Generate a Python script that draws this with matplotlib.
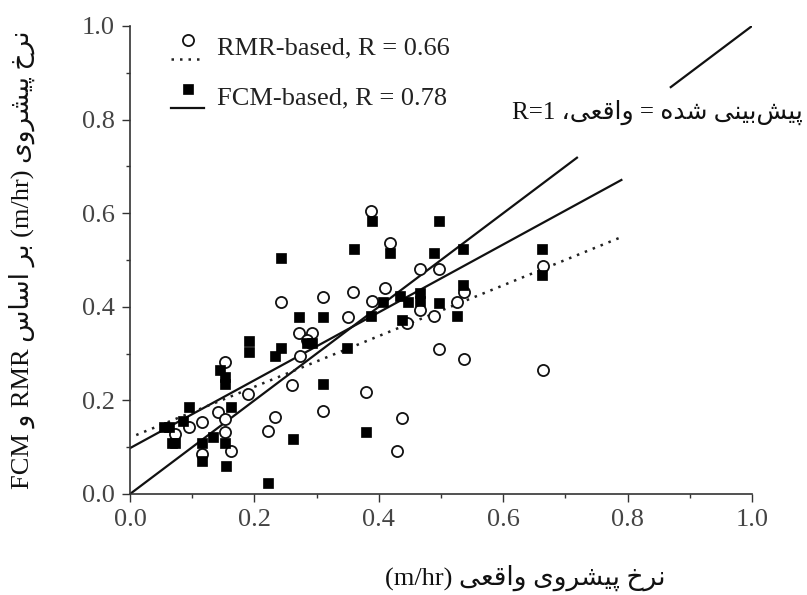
import matplotlib
matplotlib.use('Agg')
import matplotlib.pyplot as plt
from matplotlib.ticker import MultipleLocator, FormatStrFormatter
from matplotlib.legend_handler import HandlerBase
from matplotlib.lines import Line2D

# ---------------- data ----------------
rmr_x = [0.072, 0.095, 0.115, 0.115, 0.142, 0.153, 0.153, 0.153, 0.163, 0.190,
         0.222, 0.233, 0.242, 0.260, 0.271, 0.273, 0.292, 0.284, 0.310, 0.310,
         0.351, 0.359, 0.379, 0.388, 0.389, 0.410, 0.418, 0.430, 0.438, 0.445,
         0.466, 0.466, 0.489, 0.496, 0.497, 0.525, 0.537, 0.537, 0.664, 0.664]
rmr_y = [0.128, 0.143, 0.153, 0.085, 0.175, 0.282, 0.161, 0.132, 0.092, 0.214,
         0.135, 0.164, 0.411, 0.232, 0.345, 0.295, 0.345, 0.330, 0.422, 0.178,
         0.378, 0.431, 0.218, 0.605, 0.413, 0.440, 0.537, 0.092, 0.162, 0.365,
         0.480, 0.394, 0.380, 0.480, 0.310, 0.411, 0.431, 0.288, 0.487, 0.266]

fcm_x = [0.054, 0.062, 0.067, 0.072, 0.086, 0.095, 0.115, 0.115, 0.133, 0.145,
         0.153, 0.153, 0.153, 0.154, 0.163, 0.192, 0.192, 0.222, 0.233, 0.242,
         0.242, 0.262, 0.272, 0.284, 0.292, 0.310, 0.310, 0.349, 0.360, 0.380,
         0.388, 0.389, 0.407, 0.418, 0.434, 0.437, 0.447, 0.466, 0.466, 0.488,
         0.497, 0.496, 0.525, 0.536, 0.536, 0.663, 0.663]
fcm_y = [0.143, 0.143, 0.110, 0.110, 0.156, 0.186, 0.110, 0.071, 0.121, 0.265,
         0.250, 0.236, 0.110, 0.060, 0.186, 0.326, 0.304, 0.024, 0.295, 0.313,
         0.504, 0.118, 0.379, 0.322, 0.322, 0.379, 0.236, 0.311, 0.524, 0.132,
         0.380, 0.584, 0.411, 0.514, 0.424, 0.372, 0.411, 0.429, 0.413, 0.514,
         0.584, 0.409, 0.380, 0.524, 0.447, 0.524, 0.469]

rmr_fit_x = [0.01, 0.79]
rmr_fit_y = [0.126, 0.549]
fcm_fit_x = [0.0, 0.79]
fcm_fit_y = [0.098, 0.671]
ideal_segments = [(0.0, 0.72), (0.868, 1.0)]   # y = x line, broken by its label

legend_labels = ['RMR-based, R = 0.66', 'FCM-based, R = 0.78']
x_label = 'نرخ پیشروی واقعی (m/hr)'
y_label = 'نرخ پیشروی (m/hr) بر اساس RMR و FCM'
ideal_label = 'پیش\u200cبینی شده = واقعی، R=1'

# ---------------- minimal Persian shaping (presentation forms) ----------------
FORMS = {
    '\u0627': ('\uFE8D', '\uFE8E', None, None),
    '\u0628': ('\uFE8F', '\uFE90', '\uFE91', '\uFE92'),
    '\u067E': ('\uFB56', '\uFB57', '\uFB58', '\uFB59'),
    '\u062E': ('\uFEA5', '\uFEA6', '\uFEA7', '\uFEA8'),
    '\u062F': ('\uFEA9', '\uFEAA', None, None),
    '\u0631': ('\uFEAD', '\uFEAE', None, None),
    '\u0633': ('\uFEB1', '\uFEB2', '\uFEB3', '\uFEB4'),
    '\u0634': ('\uFEB5', '\uFEB6', '\uFEB7', '\uFEB8'),
    '\u0639': ('\uFEC9', '\uFECA', '\uFECB', '\uFECC'),
    '\u0642': ('\uFED5', '\uFED6', '\uFED7', '\uFED8'),
    '\u0646': ('\uFEE5', '\uFEE6', '\uFEE7', '\uFEE8'),
    '\u0647': ('\uFEE9', '\uFEEA', '\uFEEB', '\uFEEC'),
    '\u0648': ('\uFEED', '\uFEEE', None, None),
    '\u06CC': ('\uFBFC', '\uFBFD', '\uFBFE', '\uFBFF'),
}


def _dual(c):
    return c in FORMS and FORMS[c][2] is not None


def shape_word(w):
    out = []
    for i, c in enumerate(w):
        if c not in FORMS:
            if c != '\u200c':
                out.append(c)
            continue
        prev = w[i - 1] if i > 0 else ''
        nxt = w[i + 1] if i + 1 < len(w) else ''
        jp = _dual(prev)
        jn = _dual(c) and nxt in FORMS
        iso, fin, ini, med = FORMS[c]
        if jp and jn:
            out.append(med)
        elif jp:
            out.append(fin)
        elif jn:
            out.append(ini)
        else:
            out.append(iso)
    return ''.join(out)


def _is_rtl(tok):
    return any('\u0600' <= ch <= '\u06FF' for ch in tok)


def visual(s):
    out = []
    for t in reversed(s.split(' ')):
        out.append(shape_word(t)[::-1] if _is_rtl(t) else t)
    return ' '.join(out)


class StackedHandler(HandlerBase):
    """marker above, line below (as in the reference legend)"""
    def create_artists(self, legend, orig_handle, xdescent, ydescent,
                       width, height, fontsize, trans):
        mk, ln = orig_handle
        yc = -ydescent + height / 2.0
        l = Line2D([-xdescent, -xdescent + width], [yc - 0.52 * fontsize] * 2)
        l.update_from(ln)
        l.set_marker('None')
        m = Line2D([-xdescent + width / 2.0], [yc + 0.2 * fontsize])
        m.update_from(mk)
        m.set_linestyle('None')
        l.set_transform(trans)
        m.set_transform(trans)
        return [l, m]


# ---------------- figure ----------------
SERIF = ['Liberation Serif', 'DejaVu Sans']
plt.rcParams['font.family'] = SERIF
FS = 19

fig = plt.figure(figsize=(8.07, 5.95), dpi=100)
ax = fig.add_axes([130 / 807, 1 - 494 / 595, 622 / 807, 468 / 595])

for (a, b) in ideal_segments:
    ax.plot([a, b], [a, b], color='#111111', lw=1.6, solid_capstyle='butt', zorder=2)
ax.plot(fcm_fit_x, fcm_fit_y, color='#111111', lw=1.6, zorder=2)
ax.plot(rmr_fit_x, rmr_fit_y, color='#222222', lw=1.8, ls=(0, (1, 2.4)), zorder=2)

h_rmr = ax.plot(rmr_x, rmr_y, ls='none', marker='o', ms=8, mfc='white',
                mec='#111111', mew=1.3, zorder=3)[0]
h_fcm = ax.plot(fcm_x, fcm_y, ls='none', marker='s', ms=7.5, mfc='#000000',
                mec='#000000', mew=0.5, zorder=4)[0]

ln_rmr = Line2D([], [], color='#222222', lw=1.8, ls=(0, (1, 2.4)))
ln_fcm = Line2D([], [], color='#111111', lw=1.6)

leg = ax.legend([(h_rmr, ln_rmr), (h_fcm, ln_fcm)], legend_labels,
                handler_map={tuple: StackedHandler()}, loc='upper left',
                bbox_to_anchor=(0.062, 0.985), frameon=False, fontsize=FS,
                handlelength=1.25, handletextpad=0.5, labelspacing=1.0,
                borderpad=0.1, borderaxespad=0.0)
for t in leg.get_texts():
    t.set_color('#222222')

ax.text(1.082, 0.816, visual(ideal_label), fontsize=18, family=SERIF,
        ha='right', va='center', color='#111111', clip_on=False)

ax.set_xlim(0, 1.0)
ax.set_ylim(0, 1.0)
ax.xaxis.set_major_locator(MultipleLocator(0.2))
ax.xaxis.set_minor_locator(MultipleLocator(0.1))
ax.yaxis.set_major_locator(MultipleLocator(0.2))
ax.yaxis.set_minor_locator(MultipleLocator(0.1))
ax.xaxis.set_major_formatter(FormatStrFormatter('%.1f'))
ax.yaxis.set_major_formatter(FormatStrFormatter('%.1f'))
ax.tick_params(which='major', direction='out', length=6, width=1.0,
               labelsize=FS, labelcolor='#444444', color='#333333', pad=5)
ax.tick_params(which='minor', direction='out', length=3, width=1.0, color='#333333')

for s in ['top', 'right']:
    ax.spines[s].set_visible(False)
for s in ['left', 'bottom']:
    ax.spines[s].set_color('#333333')
    ax.spines[s].set_linewidth(1.2)

ax.set_xlabel(visual(x_label), fontsize=FS, family=SERIF, color='#111111')
ax.xaxis.set_label_coords(0.635, -0.18)
ax.xaxis.label.set_va('center')
ax.set_ylabel(visual(y_label), fontsize=FS, family=SERIF, color='#111111')
ax.yaxis.set_label_coords(-0.174, 0.5)
ax.yaxis.label.set_va('center')

fig.savefig('out.png', dpi=100)
